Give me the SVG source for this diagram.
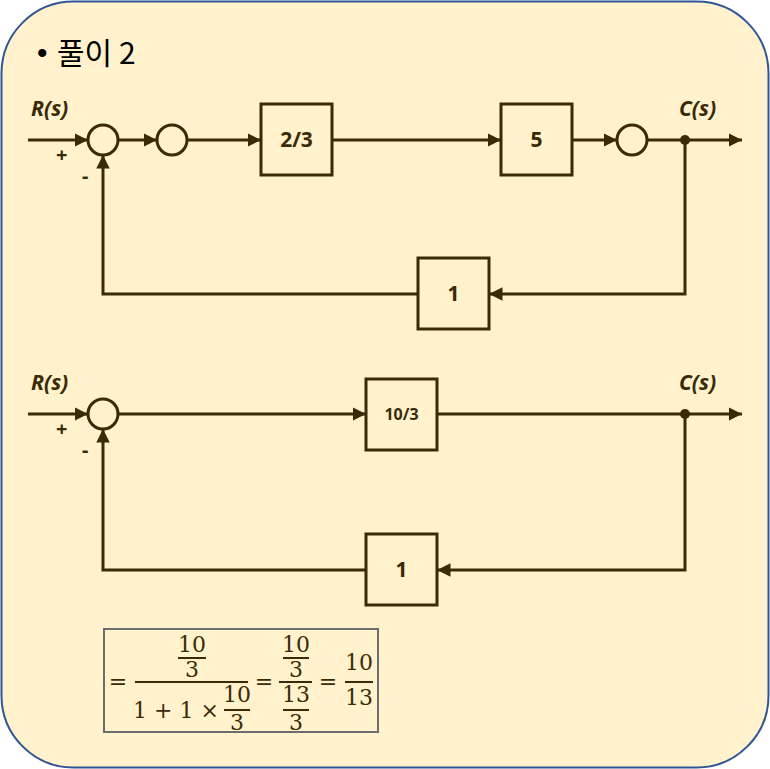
<svg xmlns="http://www.w3.org/2000/svg" width="770" height="769" viewBox="0 0 770 769">
<defs>
<marker id="ah" viewBox="0 0 10 10" refX="10" refY="5" markerWidth="4.5" markerHeight="4.5" markerUnits="strokeWidth" orient="auto">
<path d="M0,0 L10,5 L0,10 z" fill="#3b2a08"/>
</marker>
<style>
.ln{fill:none;stroke:#3b2a08;stroke-width:3}
.bx{fill:none;stroke:#3b2a08;stroke-width:3}
.sj{fill:none;stroke:#3b2a08;stroke-width:3}
.lb{font-family:"Noto Sans","DejaVu Sans",sans-serif;font-weight:bold;font-size:21px;fill:#3b2a08;text-anchor:middle}
.sg{font-family:"Noto Sans","DejaVu Sans",sans-serif;font-weight:bold;font-size:21px;fill:#3b2a08;font-style:italic}
.pm{font-family:"Noto Sans","DejaVu Sans",sans-serif;font-weight:bold;font-size:20px;fill:#3b2a08}
.m{font-family:"DejaVu Serif","Liberation Serif",serif;font-size:22px;fill:#3b2a08;text-anchor:middle}
.fb{stroke:#3b2a08;stroke-width:2}
</style>
</defs>
<rect x="1.5" y="1.5" width="767" height="766" rx="72" fill="#fff2cc" stroke="#2f5597" stroke-width="2"/>
<text x="37" y="63" font-family="'Liberation Sans',sans-serif" font-size="30" fill="#000">•</text>
<text x="57" y="64" font-family="'Noto Sans CJK KR','Noto Sans',sans-serif" font-size="30" fill="#000">풀이 2</text>

<g id="connectors">
<line class="ln" x1="28" y1="140" x2="88" y2="140" marker-end="url(#ah)"/>
<line class="ln" x1="118" y1="140" x2="157" y2="140" marker-end="url(#ah)"/>
<line class="ln" x1="187" y1="140" x2="261" y2="140" marker-end="url(#ah)"/>
<line class="ln" x1="332" y1="140" x2="501" y2="140" marker-end="url(#ah)"/>
<line class="ln" x1="572" y1="140" x2="617" y2="140" marker-end="url(#ah)"/>
<line class="ln" x1="647" y1="140" x2="742" y2="140" marker-end="url(#ah)"/>
<polyline class="ln" points="685,140 685,294 489,294" marker-end="url(#ah)"/>
<polyline class="ln" points="418,294 103,294 103,155" marker-end="url(#ah)"/>
<circle cx="685" cy="140" r="5" fill="#3b2a08"/>

<line class="ln" x1="28" y1="414" x2="88" y2="414" marker-end="url(#ah)"/>
<line class="ln" x1="118" y1="414" x2="366" y2="414" marker-end="url(#ah)"/>
<line class="ln" x1="437" y1="414" x2="742" y2="414" marker-end="url(#ah)"/>
<polyline class="ln" points="685,414 685,570 437,570" marker-end="url(#ah)"/>
<polyline class="ln" points="366,570 103,570 103,429" marker-end="url(#ah)"/>
<circle cx="685" cy="414" r="5" fill="#3b2a08"/>
</g>

<g id="sum1"><circle class="sj" cx="103" cy="140" r="15"/></g>
<g id="sum2"><circle class="sj" cx="172" cy="140" r="15"/></g>
<g id="sum3"><circle class="sj" cx="632" cy="140" r="15"/></g>
<g id="g1"><rect class="bx" x="261" y="104" width="71" height="71"/><text class="lb" x="296.5" y="147">2/3</text></g>
<g id="g2"><rect class="bx" x="501" y="104" width="71" height="71"/><text class="lb" x="536.5" y="147">5</text></g>
<g id="h1"><rect class="bx" x="418" y="258" width="71" height="71"/><text class="lb" x="453.5" y="301">1</text></g>
<g id="lbl1">
<text class="sg" x="31" y="116">R(s)</text>
<text class="sg" x="679" y="116">C(s)</text>
<text class="pm" x="56" y="162">+</text>
<text class="pm" x="82" y="183">-</text>
</g>

<g id="sum4"><circle class="sj" cx="103" cy="414" r="15"/></g>
<g id="g3"><rect class="bx" x="366" y="379" width="71" height="71"/><text class="lb" x="401.5" y="420" style="font-size:16px">10/3</text></g>
<g id="h2"><rect class="bx" x="366" y="534" width="71" height="71"/><text class="lb" x="401.5" y="577">1</text></g>
<g id="lbl2">
<text class="sg" x="31" y="390">R(s)</text>
<text class="sg" x="679" y="390">C(s)</text>
<text class="pm" x="56" y="436">+</text>
<text class="pm" x="82" y="457">-</text>
</g>

<g id="formula">
<rect x="104" y="629" width="274" height="103" fill="none" stroke="#6d6d6d" stroke-width="2"/>
<text class="m" x="118" y="689">=</text>
<line class="fb" x1="135" y1="682" x2="248" y2="682"/>
<text class="m" x="192" y="652">10</text>
<line class="fb" x1="178" y1="658" x2="206" y2="658"/>
<text class="m" x="192" y="677">3</text>
<text class="m" x="176" y="718">1 + 1 ×</text>
<text class="m" x="237" y="702">10</text>
<line class="fb" x1="224" y1="710" x2="250" y2="710"/>
<text class="m" x="237" y="730">3</text>
<text class="m" x="264" y="689">=</text>
<text class="m" x="296" y="652">10</text>
<line class="fb" x1="283" y1="658" x2="309" y2="658"/>
<text class="m" x="296" y="677">3</text>
<line class="fb" x1="279" y1="682" x2="312" y2="682"/>
<text class="m" x="296" y="702">13</text>
<line class="fb" x1="283" y1="710" x2="309" y2="710"/>
<text class="m" x="296" y="730">3</text>
<text class="m" x="328" y="689">=</text>
<text class="m" x="359" y="670">10</text>
<line class="fb" x1="345" y1="682" x2="373" y2="682"/>
<text class="m" x="359" y="705">13</text>
</g>
</svg>
